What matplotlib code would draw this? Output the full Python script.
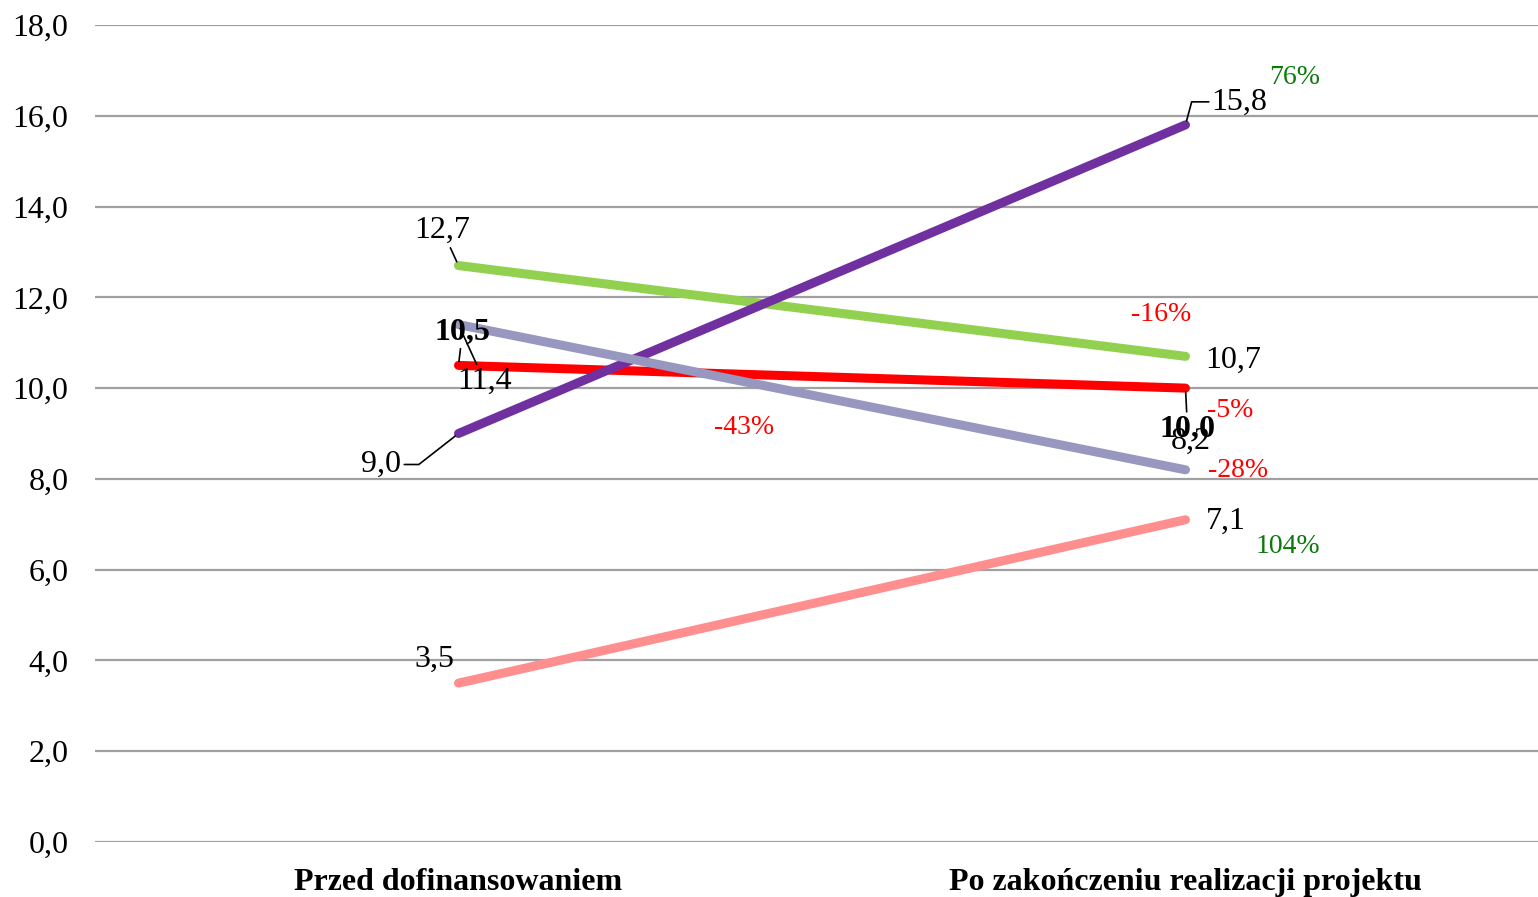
import matplotlib
matplotlib.use("Agg")
import matplotlib.pyplot as plt

# dane
kategorie = ["Przed dofinansowaniem", "Po zakończeniu realizacji projektu"]
zielona = [12.7, 10.7]
czerwona = [10.5, 10.0]
lawendowa = [11.4, 8.2]
fioletowa = [9.0, 15.8]
rozowa = [3.5, 7.1]
zmiany = ["-16%", "-5%", "-28%", "76%", "104%"]
zmiana_srodek = "-43%"
y_ticks = [0, 2, 4, 6, 8, 10, 12, 14, 16, 18]

plt.rcParams['font.family'] = ['Liberation Serif', 'DejaVu Serif']
FS = 23
FS_PROC = 20

fig = plt.figure(figsize=(15.38, 8.97), dpi=100)
ax = fig.add_axes([95 / 1538, 1 - 842 / 897, (1549 - 95) / 1538, (842 - 25) / 897])

x = [0, 1]
# kolejnosc rysowania jak w oryginale
ax.plot(x, czerwona, color='#FF0000', lw=6.5, solid_capstyle='round', zorder=3)
ax.plot(x, zielona, color='#92D050', lw=6.5, solid_capstyle='round', zorder=3)
ax.plot(x, rozowa, color='#FF8F8F', lw=6.5, solid_capstyle='round', zorder=3)
ax.plot(x, fioletowa, color='#7030A0', lw=6.5, solid_capstyle='round', zorder=4)
ax.plot(x, lawendowa, color='#9797BF', lw=6.5, solid_capstyle='round', zorder=5)

ax.set_xlim(-0.5, 1.5)
ax.set_ylim(0, 18)
ax.set_yticks(y_ticks)
ax.set_yticklabels([f"{v:.1f}".replace(".", ",") for v in y_ticks], fontsize=FS)
ax.set_xticks(x)
ax.set_xticklabels(kategorie, fontsize=FS, fontweight='bold')
ax.tick_params(axis='y', length=0, pad=19)
ax.tick_params(axis='x', length=0, pad=19)
ax.grid(axis='y', color='#A0A0A0', lw=1.6)
ax.set_axisbelow(True)
for s in ax.spines.values():
    s.set_visible(False)


def fmt(v):
    return f"{v:.1f}".replace(".", ",")


def etykieta(xi, v, dx, dy, bold=False, linia=None, kolor='black', tekst=None, fs=FS):
    arrow = None
    if linia:
        arrow = dict(arrowstyle='-', color='black', lw=1.2, shrinkA=0, shrinkB=3,
                     connectionstyle=linia)
    ax.annotate(tekst if tekst else fmt(v), xy=(xi, v), xytext=(dx, dy),
                textcoords='offset pixels', ha='center', va='center',
                fontsize=fs, color=kolor, fontweight='bold' if bold else 'normal',
                arrowprops=arrow, zorder=6)


prosta = "arc3,rad=0"
# etykiety wartosci - przed
etykieta(0, zielona[0], -16, 35, linia=prosta)
etykieta(0, czerwona[0], 4, 34, bold=True, linia=prosta)
etykieta(0, lawendowa[0], 26, -57, linia=prosta)
etykieta(0, fioletowa[0], -77, -31, linia="angle,angleA=0,angleB=38,rad=0")
etykieta(0, rozowa[0], -24, 24)
# etykiety wartosci - po
etykieta(1, fioletowa[1], 54, 23, linia="angle,angleA=0,angleB=75,rad=0")
etykieta(1, zielona[1], 48, -4)
etykieta(1, czerwona[1], 2, -41, bold=True, linia=prosta)
etykieta(1, lawendowa[1], 5, 28)
etykieta(1, rozowa[1], 40, -2)

# zmiany procentowe
etykieta(1, zielona[1], -24, 42, kolor='#FF0000', tekst=zmiany[0], fs=FS_PROC)
etykieta(1, czerwona[1], 45, -22, kolor='#FF0000', tekst=zmiany[1], fs=FS_PROC)
etykieta(1, lawendowa[1], 53, -1, kolor='#FF0000', tekst=zmiany[2], fs=FS_PROC)
etykieta(1, fioletowa[1], 109, 47, kolor='#0A7A0A', tekst=zmiany[3], fs=FS_PROC)
etykieta(1, rozowa[1], 102, -27, kolor='#0A7A0A', tekst=zmiany[4], fs=FS_PROC)
ax.text(0.393, 9.14, zmiana_srodek, color='#FF0000', fontsize=FS_PROC, ha='center', va='center')

fig.savefig("out.png", dpi=100)
